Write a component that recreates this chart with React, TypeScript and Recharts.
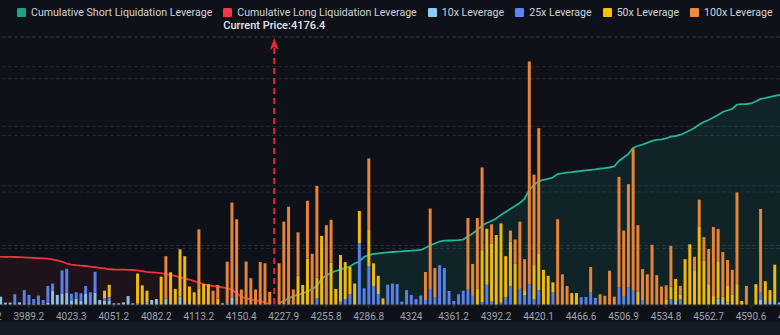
import React from 'react';
import { ComposedChart, Bar, Area, XAxis, YAxis, CartesianGrid, ReferenceLine } from 'recharts';

// price labels shown every 9th level
const TICK_LABELS = [
  '3955.2', '3989.2', '4023.3', '4051.2', '4082.2', '4113.2', '4150.4', '4227.9', '4255.8', '4286.8',
  '4324', '4361.2', '4392.2', '4420.1', '4466.6', '4506.9', '4534.8', '4562.7', '4590.6', '4618.5',
];
const TICK_EVERY = 9;
const LEVEL_COUNT = 175;
const CURRENT_IDX = 61;
const CURRENT_PRICE = '4176.4';

// liquidation volume per price level (units of 1M), index 0 = first level
const LEV10 = [
  0, 0, 0,
  1.4, 0.4, 0.4, 0.3, 0.45, 0.3, 0.3, 0.2, 0.3, 0.2,
  0.4, 2.35, 1.7, 1.85, 2.07, 0.67, 1.06, 0.73, 1.85, 0.28,
  2.07, 0.84, 0.73, 0.67, 0.28, 0.28, 0.45, 1.5, 0.28, 0.28,
  0, 0.45, 0.84, 1.0, 0, 1.1, 0, 0, 1.4, 0,
  0.5, 0, 0, 0, 0, 0, 0, 0.28, 0.28, 1.3,
  0, 0, 0, 0, 0, 0, 0, 0, 0, 0,
  0, 0, 0, 0, 0, 0, 0, 0, 0, 0,
  0, 0, 0, 0, 0, 0, 0, 0, 0, 0,
  0, 0, 0, 0, 0, 0, 0, 0, 0, 0,
  0, 0, 0, 0, 0, 0, 0, 0, 0, 0,
  0, 0, 0, 0, 0, 0, 0, 0, 0, 0,
  0, 0, 0, 0, 0, 0, 0, 0, 0, 0,
  0, 0, 0, 0, 0, 0, 0, 0, 0, 0,
  0, 0, 0, 0, 0, 0, 0, 0, 0, 0,
  0, 0, 0, 0.67, 0, 0, 0, 0, 0, 0,
  0, 0, 1.06, 0.67, 0.4, 0, 0, 0, 0, 0,
  0, 0.84, 0.5, 0.5, 0.67, 0.4,
];

const LEV25 = [
  0, 0, 0,
  0, 0, 0, 1.5, 0, 2.2, 1.4, 0.8, 1.3, 0.65,
  2.8, 1.25, 0, 3.95, 4.0, 1.23, 1.07, 1.23, 1.35, 1.85,
  3.5, 0, 0.4, 0.62, 0, 0, 0, 0, 0, 0,
  0, 0, 0, 0, 0, 0, 0, 0, 0, 0,
  0, 0, 0, 0, 0, 0, 0, 0, 0, 0,
  0, 0, 0, 0, 0, 0, 0, 0, 0, 0,
  0, 0, 0, 0, 0, 0, 0, 1.1, 0, 0,
  0, 0, 0.56, 1.0, 1.85, 0, 10.4, 2.8, 6.55, 3.2,
  1.85, 0, 3.4, 3.6, 3.5, 0.56, 2.5, 1.7, 1.0, 1.6,
  0.84, 2.7, 1.3, 6.7, 6.2, 2.35, 0.67, 1.8, 2.4, 2.6,
  1.5, 0, 0.5, 3.4, 0.56, 0, 0.4, 1.3, 3.2, 0,
  2.7, 1.6, 3.5, 0.95, 2.5, 0, 0, 2.1, 0, 0,
  0, 0, 0, 1.3, 1.35, 2.07, 1.2, 0, 0, 0,
  0, 3.0, 1.4, 3.0, 2.4, 0, 0.84, 0, 0, 0,
  0, 0, 1.0, 0, 0.95, 0, 0, 0, 0, 0,
  0, 0, 0, 0, 0, 0, 0, 0, 0, 0,
  0, 1.2, 0, 0, 0, 0,
];

const LEV50 = [
  0, 0, 0,
  0, 0, 0, 0, 0, 0, 0, 0, 0, 0,
  0, 0, 0, 0, 0, 0, 0, 0, 0, 0,
  0, 0, 1.27, 2.1, 0, 0, 0, 0, 0, 5.0,
  3.3, 1.95, 0, 0, 4.76, 0, 5.5, 2.7, 7.95, 8.2,
  2.6, 2.13, 2.8, 3.5, 3.5, 0, 1.1, 0, 0, 0,
  0, 0, 0, 0, 0, 0, 0, 0, 0, 0,
  0, 0, 0, 4.9, 3.36, 7.8, 0, 3.5, 11.6, 0,
  7.1, 2.7, 7.84, 6.2, 4.55, 3.6, 5.4, 0, 6.05, 3.8,
  3.05, 1.1, 0, 0, 0, 0, 0, 0, 0, 0,
  0, 0, 0, 0, 0, 0, 0, 0, 0, 0,
  0, 2.8, 8.7, 9.4, 9.8, 11.75, 13.3, 6.9, 7.4, 6.9,
  0, 0.75, 0, 5.75, 6.2, 5.9, 4.9, 1.7, 0, 0,
  0, 2.0, 2.0, 0, 0, 0, 0, 0, 0, 0,
  0, 0, 0, 0, 0, 2.2, 0, 0, 0, 0,
  0, 0.84, 2.1, 3.7, 0.75, 7.7, 10.2, 5.7, 13.1, 7.4,
  3.5, 1.5, 6.3, 0.73, 2.8, 1.7, 3.5, 0.67, 0, 0,
  3.5, 0, 3.5, 2.0, 6.1, 0,
];

const LEV100 = [
  0, 0, 0,
  0, 0, 0, 0, 0, 0, 0, 0, 0, 0,
  0, 0, 0, 0, 0, 0, 0, 0, 0, 0,
  0, 0, 0, 0, 0, 0, 0, 0, 0, 0,
  0, 0, 0, 0, 0, 7.1, 0, 0, 0, 0,
  0, 0, 9.9, 0, 0, 2.4, 2.26, 0, 7.0, 15.9,
  14.4, 2.6, 7.3, 4.5, 2.6, 7.2, 7.0, 2.2, 0, 7.0,
  14.0, 16.5, 2.6, 7.3, 0, 9.7, 8.6, 15.4, 0, 13.4,
  7.2, 0, 0, 0, 0, 0, 0, 0, 12.0, 0,
  0, 0, 0, 0, 0, 0, 0, 0, 0, 0,
  4.7, 13.5, 4.9, 0, 0, 0, 0, 0, 0, 12.0,
  5.4, 11.8, 13.9, 0, 3.2, 0, 0, 0, 1.9, 4.1,
  11.3, 5.35, 37.4, 15.2, 21.0, 0, 0, 0, 14.4, 5.15,
  3.2, 0, 0, 0, 0, 4.3, 0, 1.8, 1.56, 5.76,
  1.4, 18.5, 11.1, 17.3, 23.9, 11.2, 5.2, 5.15, 10.1, 5.0,
  3.1, 2.46, 6.8, 0, 1.5, 0, 0, 2.4, 4.6, 4.0,
  5.9, 11.6, 5.4, 7.5, 4.35, 4.2, 15.4, 0, 3.2, 0,
  0, 14.1, 0, 0, 0, 0,
];

// cumulative long liquidations, from index 0 up to the current price
const CUM_LONG = [
  86.5, 86.2, 85.8,
  85.4, 85.2, 85.1, 84.9, 84.5, 84.2, 83.7, 83.3, 82.9, 82.4,
  81.9, 80.8, 79.1, 76.9, 73.4, 71.3, 70.4, 69.7, 69.0, 67.9,
  66.9, 65.8, 64.6, 63.2, 62.8, 62.6, 62.4, 62.3, 61.9, 61.2,
  60.1, 58.4, 57.7, 57.1, 56.2, 54.8, 53.1, 51.3, 49.0, 46.9,
  45.1, 42.4, 39.8, 37.1, 34.8, 33.6, 32.7, 31.3, 29.7, 27.1,
  21.2, 14.7, 11.5, 10.1, 8.3, 7.1, 4.4, 1.5,
];

// cumulative short liquidations, starting one level above the current price
const CUM_SHORT = [
  3.0, 7.1, 11.5, 15.9, 17.7, 20.3, 23.9, 28.3, 33.6, 46.0,
  52.2, 56.6, 60.1, 62.8, 65.4, 68.1, 73.4, 76.9, 84.9, 88.4,
  90.2, 91.4, 92.3, 93.2, 93.7, 94.3, 94.8, 95.5, 96.0, 96.7,
  97.3, 100.8, 105.6, 108.8, 112.3, 113.7, 114.1, 114.4, 114.8, 115.8,
  121.2, 126.5, 132.7, 140.6, 145.0, 148.6, 153.0, 159.2, 164.5, 169.8,
  175.1, 180.4, 187.5, 203.4, 212.2, 219.3, 221.1, 222.9, 225.5, 231.7,
  232.9, 234.0, 234.9, 236.1, 237.0, 238.2, 239.1, 240.0, 241.1, 242.0,
  243.2, 245.0, 254.7, 260.9, 267.1, 277.7, 281.2, 283.9, 286.9, 290.4,
  292.2, 293.1, 294.5, 297.7, 298.9, 300.7, 304.7, 308.6, 313.1, 319.3,
  323.7, 327.2, 331.6, 336.1, 341.4, 344.0, 346.7, 354.6, 355.2, 355.5,
  356.4, 359.9, 364.4, 365.8, 367.9, 369.7, 371.4,
  372.3, 373.0, 374.1, 375.0, 376.2, 377.0,
];

const COLORS = {
  bg: '#0e1118',
  grid: '#262a33',
  lev10: '#8fbfe6',
  lev25: '#5a80ea',
  lev50: '#f0b90b',
  lev100: '#e8833a',
  short: '#22b59c',
  long: '#f0313f',
  price: '#e8283a',
};

const data = Array.from({ length: LEVEL_COUNT }, (_, i) => ({
  i,
  l10: LEV10[i] ?? 0,
  l25: LEV25[i] ?? 0,
  l50: LEV50[i] ?? 0,
  l100: LEV100[i] ?? 0,
  long: CUM_LONG[i] ?? null,
  short: i > CURRENT_IDX ? CUM_SHORT[i - CURRENT_IDX - 1] ?? null : null,
}));

const LEGEND = [
  { label: 'Cumulative Short Liquidation Leverage', color: '#1ba385' },
  { label: 'Cumulative Long Liquidation Leverage', color: '#f23645' },
  { label: '10x Leverage', color: '#8ecbf2' },
  { label: '25x Leverage', color: '#5c84f4' },
  { label: '50x Leverage', color: '#f5c000' },
  { label: '100x Leverage', color: '#ec8a3e' },
];

const PriceMarker = (props: any) => {
  const { x1, y1, y2 } = props;
  const top = Math.min(y1, y2);
  const bottom = Math.max(y1, y2);
  return (
    <g>
      <line x1={x1} x2={x1} y1={top + 11} y2={bottom} stroke={COLORS.price} strokeWidth={2} strokeDasharray="6 4" />
      <polygon
        points={`${x1},${top + 1} ${x1 + 4.5},${top + 13} ${x1},${top + 10} ${x1 - 4.5},${top + 13}`}
        fill={COLORS.price}
      />
      <text x={x1} y={top - 11} textAnchor="middle" dominantBaseline="middle" fill="#e3e5ea" fontSize={11} fontWeight={500}>
        Current Price:{CURRENT_PRICE}
      </text>
    </g>
  );
};

export default function App() {
  return (
    <div style={{ position: 'fixed', inset: 0, background: COLORS.bg, overflow: 'hidden', fontFamily: 'Roboto, sans-serif' }}>
      <div style={{ position: 'absolute', left: 0, right: 0, top: 322, bottom: 0, background: '#141a27' }} />
      <div style={{ position: 'absolute', left: -16, top: 0 }}>
        <ComposedChart width={826} height={335} data={data} margin={{ top: 37, right: 0, bottom: 0, left: 0 }}>
          <CartesianGrid yAxisId="bar" vertical={false} stroke={COLORS.grid} strokeDasharray="4 2" />
          <CartesianGrid yAxisId="cum" vertical={false} stroke={COLORS.grid} strokeDasharray="4 2" />
          <XAxis
            dataKey="i"
            type="category"
            interval={TICK_EVERY - 1}
            tickFormatter={(v: number) => TICK_LABELS[v / TICK_EVERY] ?? ''}
            height={30}
            tickSize={3}
            tickMargin={5}
            tick={{ fill: '#9ea3ad', fontSize: 10 }}
            axisLine={{ stroke: '#1f232b' }}
            tickLine={{ stroke: '#3a3e47' }}
          />
          <YAxis yAxisId="bar" hide domain={[0, 45]} ticks={[0, 10, 20, 30, 40, 45]} />
          <YAxis yAxisId="cum" hide domain={[0, 474]} ticks={[0, 100, 200, 300, 400]} orientation="right" />
          <Bar yAxisId="bar" dataKey="l10" stackId="a" fill={COLORS.lev10} barSize={3} isAnimationActive={false} />
          <Bar yAxisId="bar" dataKey="l25" stackId="a" fill={COLORS.lev25} barSize={3} isAnimationActive={false} />
          <Bar yAxisId="bar" dataKey="l50" stackId="a" fill={COLORS.lev50} barSize={3} isAnimationActive={false} />
          <Bar yAxisId="bar" dataKey="l100" stackId="a" fill={COLORS.lev100} barSize={3} isAnimationActive={false} />
          <Area
            yAxisId="cum"
            dataKey="long"
            type="linear"
            stroke={COLORS.long}
            strokeWidth={1.8}
            fill={COLORS.long}
            fillOpacity={0.08}
            dot={false}
            activeDot={false}
            isAnimationActive={false}
          />
          <Area
            yAxisId="cum"
            dataKey="short"
            type="linear"
            stroke={COLORS.short}
            strokeWidth={1.8}
            fill={COLORS.short}
            fillOpacity={0.11}
            dot={false}
            activeDot={false}
            isAnimationActive={false}
          />
          <ReferenceLine yAxisId="bar" x={CURRENT_IDX} stroke={COLORS.price} shape={PriceMarker} />
        </ComposedChart>
      </div>
      <div style={{ position: 'absolute', left: 17, top: 5, display: 'flex', gap: 11, fontSize: 10.6, color: '#d0d3da', whiteSpace: 'nowrap' }}>
        {LEGEND.map((item) => (
          <div key={item.label} style={{ display: 'flex', alignItems: 'center', gap: 5, height: 14 }}>
            <span style={{ width: 9, height: 9, background: item.color, borderRadius: 1 }} />
            <span>{item.label}</span>
          </div>
        ))}
      </div>
    </div>
  );
}
